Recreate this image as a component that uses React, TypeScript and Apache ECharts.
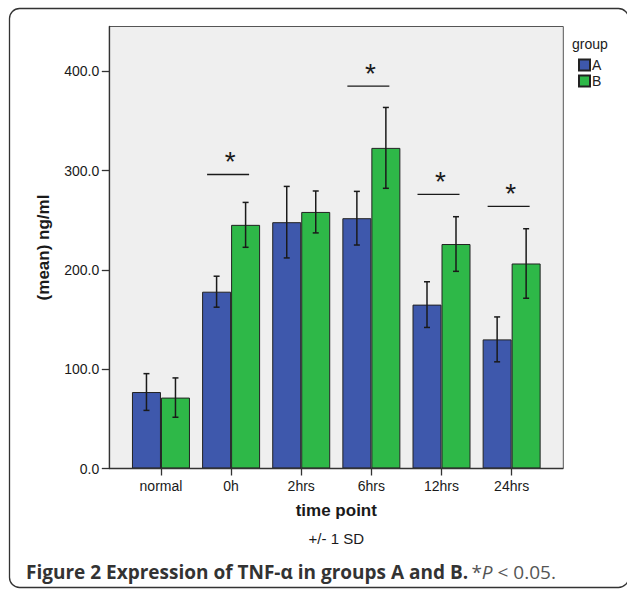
import React, { useEffect, useRef } from "react";
import * as echarts from "echarts";

const categories = ["normal", "0h", "2hrs", "6hrs", "12hrs", "24hrs"];
const meanA = [77, 178, 248, 252, 165, 130];
const sdA = [18.5, 15.6, 36, 27, 23, 22.6];
const meanB = [71.4, 245.3, 258.3, 322.8, 226, 206.4];
const sdB = [19.8, 22.6, 21.1, 40.7, 27.5, 35];
const sigCategories = ["0h", "6hrs", "12hrs", "24hrs"];
const sigLineValues = [296, 385, 276, 264];
const yTicks = [0, 100, 200, 300, 400];
const yMax = 445;

const COLOR_A = "#3E58AC";
const COLOR_B = "#2EB848";
const BAR_W = 29;
const FONT = "Liberation Sans";

// layout
const PLOT_L = 109.3;
const PLOT_R = 563.3;
const GRID_L = 125.9;
const GRID_W = 420.8;
const GRID_T = 26.5;
const GRID_H = 442;

function errorBarRender(offset: number) {
  return (params: any, api: any) => {
    const ci = api.value(0);
    const lo = api.value(1);
    const hi = api.value(2);
    const pLo = api.coord([ci, lo]);
    const pHi = api.coord([ci, hi]);
    const x = pLo[0] + offset;
    const st = { stroke: "#1a1a1a", lineWidth: 1.5 };
    return {
      type: "group",
      children: [
        { type: "line", shape: { x1: x, y1: pHi[1], x2: x, y2: pLo[1] }, style: st },
        { type: "line", shape: { x1: x - 3, y1: pHi[1], x2: x + 3, y2: pHi[1] }, style: st },
        { type: "line", shape: { x1: x - 3, y1: pLo[1], x2: x + 3, y2: pLo[1] }, style: st },
      ],
    };
  };
}

export default function App() {
  const ref = useRef<HTMLDivElement>(null);
  useEffect(() => {
    if (!ref.current) return;
    const chart = echarts.init(ref.current, null, { renderer: "svg" });
    const errA = categories.map((_, i) => [i, meanA[i] - sdA[i], meanA[i] + sdA[i]]);
    const errB = categories.map((_, i) => [i, meanB[i] - sdB[i], meanB[i] + sdB[i]]);
    const sigData = sigCategories.map((c, i) => [categories.indexOf(c), sigLineValues[i]]);

    chart.setOption({
      animation: false,
      backgroundColor: "#ffffff",
      grid: { left: GRID_L, top: GRID_T, width: GRID_W, height: GRID_H },
      legend: {
        orient: "vertical",
        left: 578,
        top: 58,
        padding: 0,
        itemWidth: 11,
        itemHeight: 11,
        itemGap: 2,
        icon: "rect",
        data: ["A", "B"],
        textStyle: { fontSize: 14, fontFamily: FONT, color: "#222", padding: [0, 0, 0, -3] },
      },
      xAxis: {
        type: "category",
        data: categories,
        axisLine: { show: false },
        axisTick: { show: true, alignWithLabel: true, length: 7, lineStyle: { color: "#333", width: 1.3 } },
        axisLabel: { fontSize: 14, fontFamily: FONT, color: "#1a1a1a", margin: 10 },
        name: "time point",
        nameLocation: "middle",
        nameGap: 33,
        nameTextStyle: { fontSize: 17, fontWeight: "bold", fontFamily: FONT, color: "#1a1a1a" },
      },
      yAxis: {
        type: "value",
        min: 0,
        max: yMax,
        interval: 100,
        offset: GRID_L - PLOT_L,
        splitLine: { show: false },
        axisLine: { show: true, lineStyle: { color: "#333", width: 1.3 } },
        axisTick: { show: true, length: 7.5, customValues: yTicks, lineStyle: { color: "#333", width: 1.3 } },
        axisLabel: {
          customValues: yTicks,
          fontSize: 14,
          fontFamily: FONT,
          color: "#1a1a1a",
          margin: 10,
          formatter: (v: number) => (yTicks.indexOf(v) >= 0 ? v.toFixed(1) : ""),
        },
        name: "(mean) ng/ml",
        nameLocation: "middle",
        nameRotate: 90,
        nameGap: 57,
        nameTextStyle: { fontSize: 17, fontWeight: "bold", fontFamily: FONT, color: "#1a1a1a" },
      },
      series: [
        {
          name: "A",
          type: "bar",
          data: meanA,
          barWidth: BAR_W,
          barGap: "0%",
          itemStyle: { color: COLOR_A, borderColor: "#222", borderWidth: 1 },
          z: 2,
        },
        {
          name: "B",
          type: "bar",
          data: meanB,
          barWidth: BAR_W,
          barGap: "0%",
          itemStyle: { color: COLOR_B, borderColor: "#222", borderWidth: 1 },
          z: 2,
        },
        {
          name: "errA",
          type: "custom",
          data: errA,
          renderItem: errorBarRender(-BAR_W / 2),
          z: 5,
          silent: true,
        },
        {
          name: "errB",
          type: "custom",
          data: errB,
          renderItem: errorBarRender(BAR_W / 2),
          z: 5,
          silent: true,
        },
        {
          name: "sig",
          type: "custom",
          data: sigData,
          z: 5,
          silent: true,
          renderItem: (params: any, api: any) => {
            const p = api.coord([api.value(0), api.value(1)]);
            const x1 = p[0] - 24;
            const x2 = p[0] + 18;
            return {
              type: "group",
              children: [
                { type: "line", shape: { x1, y1: p[1], x2, y2: p[1] }, style: { stroke: "#1a1a1a", lineWidth: 1.3 } },
                {
                  type: "text",
                  x: (x1 + x2) / 2 + 2,
                  y: p[1] - 13,
                  style: { text: "*", fontSize: 28, fontFamily: FONT, fill: "#1a1a1a", align: "center", verticalAlign: "middle" },
                },
              ],
            };
          },
        },
      ],
      graphic: [
        {
          type: "rect",
          z: -10,
          silent: true,
          shape: { x: 9.5, y: 8.5, width: 619, height: 579, r: 10 },
          style: { fill: "none", stroke: "#333", lineWidth: 1.3 },
        },
        {
          type: "rect",
          z: -5,
          silent: true,
          shape: { x: PLOT_L, y: GRID_T, width: PLOT_R - PLOT_L, height: GRID_H },
          style: { fill: "#efefef", stroke: "#555", lineWidth: 1 },
        },
        {
          type: "line",
          z: 10,
          silent: true,
          shape: { x1: PLOT_L, y1: GRID_T + GRID_H, x2: PLOT_R, y2: GRID_T + GRID_H },
          style: { stroke: "#333", lineWidth: 1.3 },
        },
        {
          type: "text",
          x: 572,
          y: 43.5,
          silent: true,
          style: { text: "group", fontSize: 14, fontFamily: FONT, fill: "#1a1a1a", verticalAlign: "middle" },
        },
        {
          type: "text",
          x: (PLOT_L + PLOT_R) / 2,
          y: 538,
          silent: true,
          style: { text: "+/- 1 SD", fontSize: 15, fontFamily: FONT, fill: "#1a1a1a", align: "center", verticalAlign: "middle" },
        },
        {
          type: "text",
          x: 26,
          y: 572,
          silent: true,
          style: {
            text: "{b|Figure 2 Expression of TNF-α in groups A and B.} {r|*}{i|P}{r| < 0.05.}",
            verticalAlign: "middle",
            rich: {
              b: { fontSize: 19, fontWeight: "bold", fontFamily: "Open Sans", fill: "#333" },
              r: { fontSize: 19, fontFamily: "Open Sans", fill: "#555" },
              i: { fontSize: 19, fontStyle: "italic", fontFamily: "Open Sans", fill: "#555" },
            },
          },
        },
      ],
    });
    return () => chart.dispose();
  }, []);
  return (
    <div
      ref={ref}
      style={{ position: "fixed", left: 0, top: 0, width: 627, height: 589, background: "#fff" }}
    />
  );
}
